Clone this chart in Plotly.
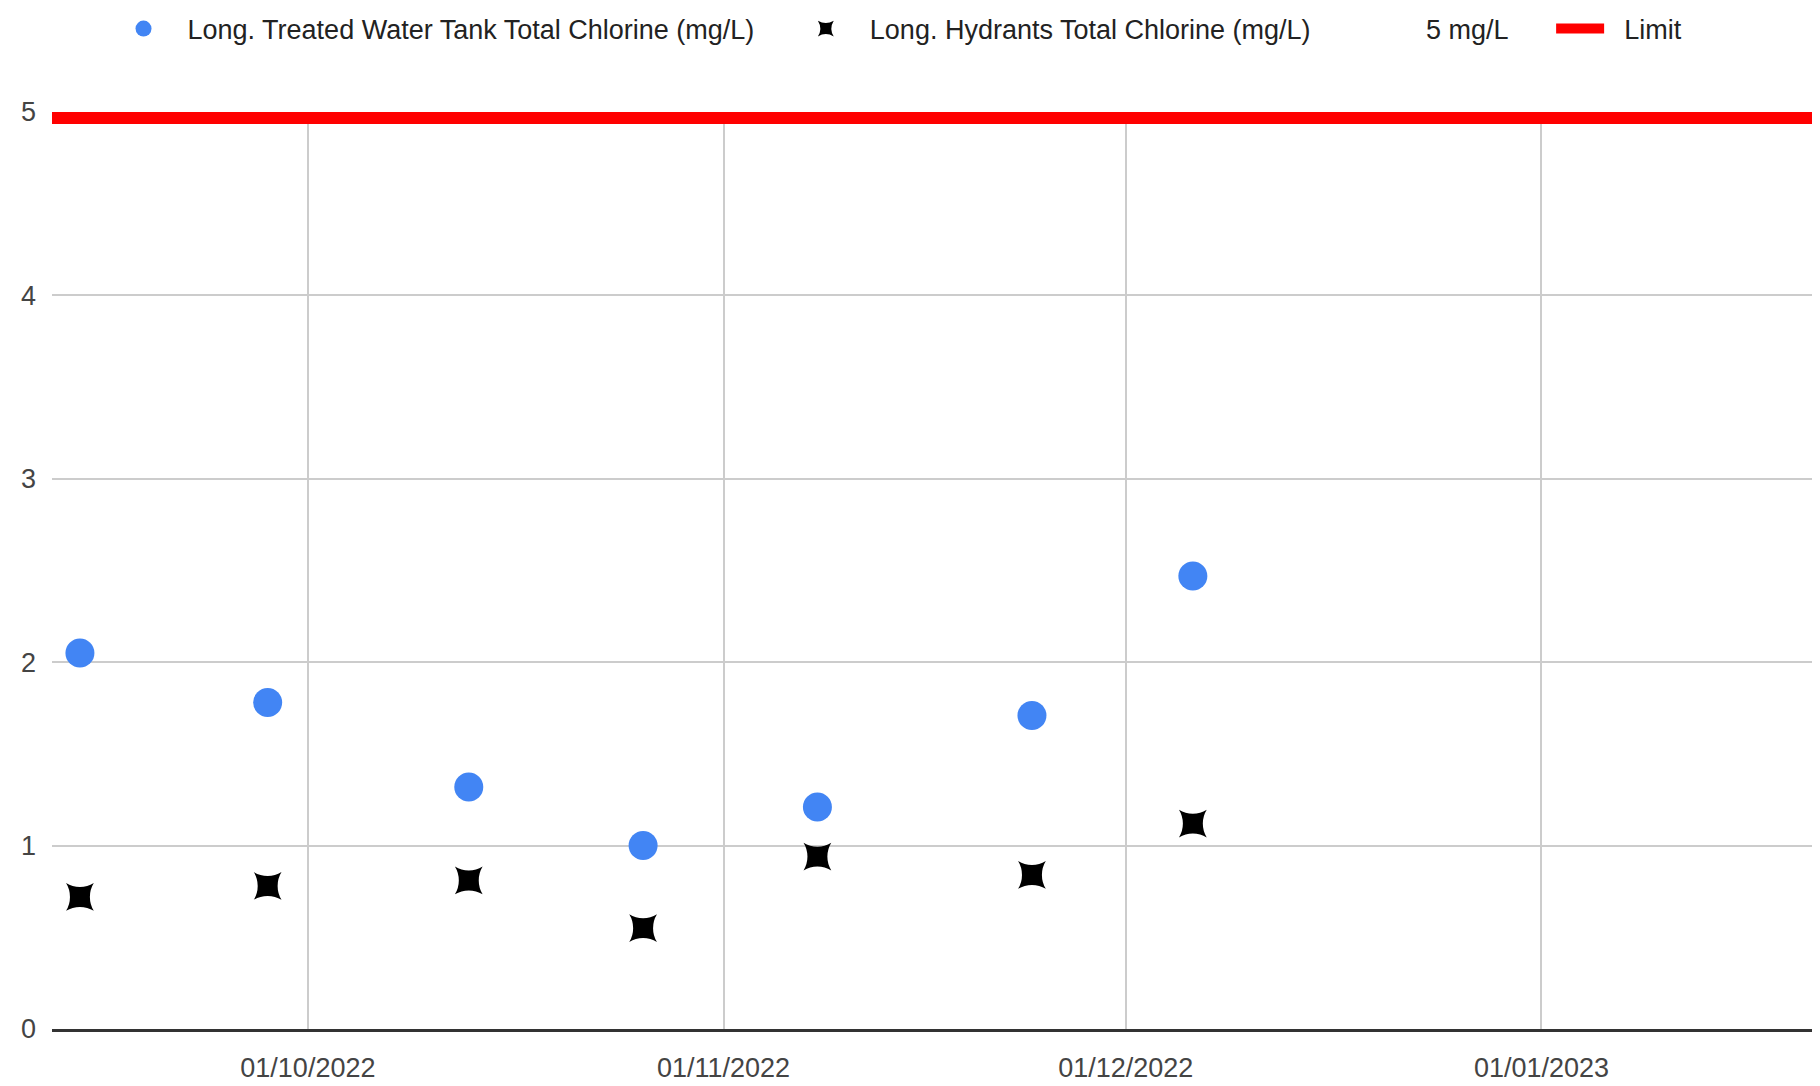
import plotly.graph_objects as go

# sampling dates and readings (mg/L)
dates = ["2022-09-14", "2022-09-28", "2022-10-13", "2022-10-26",
         "2022-11-08", "2022-11-24", "2022-12-06"]
tank_chlorine = [2.05, 1.78, 1.32, 1.00, 1.21, 1.71, 2.47]
hydrant_chlorine = [0.72, 0.78, 0.81, 0.55, 0.94, 0.84, 1.12]
limit_value = 5
x_range = ["2022-09-11 22:00", "2023-01-21 06:00"]

FONT = "Liberation Sans, Arial, sans-serif"
NB = "\u00a0"


def legend_label(text):
    # spacing around the label so the legend keeps the original gaps
    return NB * 2 + text + NB * 5


fig = go.Figure()

fig.add_trace(go.Scatter(
    x=x_range, y=[limit_value, limit_value],
    mode="lines", name=NB * 2 + "Limit",
    line=dict(color="#ff0000", width=24),
    legendrank=4,
))
fig.add_trace(go.Scatter(
    x=dates, y=tank_chlorine,
    mode="markers", name=legend_label("Long. Treated Water Tank Total Chlorine (mg/L)"),
    marker=dict(color="#4285f4", size=29, symbol="circle"),
    legendrank=1,
))
fig.add_trace(go.Scatter(
    x=dates, y=hydrant_chlorine,
    mode="markers", name=legend_label("Long. Hydrants Total Chlorine (mg/L)"),
    marker=dict(color="#000000", size=28, symbol="star-diamond", angle=45),
    legendrank=2,
))
# series with no visible mark, only its legend entry shows
fig.add_trace(go.Scatter(
    x=dates, y=[None] * len(dates),
    mode="lines", name=legend_label("5 mg/L"),
    line=dict(color="rgba(0,0,0,0)", width=2),
    legendrank=3,
))

fig.update_layout(
    width=1812, height=1078,
    margin=dict(l=44, r=7, t=104, b=57, autoexpand=False),
    paper_bgcolor="white", plot_bgcolor="white",
    font=dict(family=FONT, size=27, color="#222222"),
    legend=dict(
        orientation="h",
        x=0.0355, xanchor="left",
        y=1.0905, yanchor="middle",
        font=dict(family=FONT, size=27, color="#222222"),
        traceorder="normal",
        itemwidth=48,
    ),
    showlegend=True,
)

fig.update_xaxes(
    type="date",
    range=x_range,
    tick0="2022-10-01", dtick="M1",
    tickformat="%d/%m/%Y",
    showgrid=True, gridcolor="#cccccc", gridwidth=2,
    showline=True, linecolor="#333333", linewidth=3,
    zeroline=False,
    ticks="",
    automargin=False,
    ticklabelstandoff=13,
    tickfont=dict(family=FONT, size=27, color="#444444"),
)
fig.update_yaxes(
    range=[0, 5], dtick=1,
    showgrid=True, gridcolor="#cccccc", gridwidth=2,
    zeroline=False, showline=False,
    ticks="",
    automargin=False,
    ticklabelstandoff=15,
    tickfont=dict(family=FONT, size=27, color="#444444"),
)

fig.write_html("out.html")
